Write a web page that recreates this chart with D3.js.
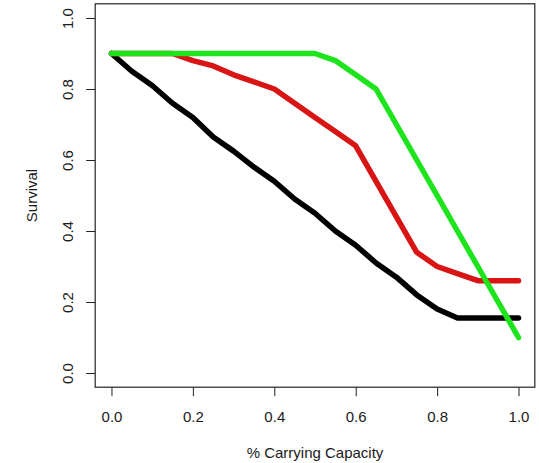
<!DOCTYPE html>
<html>
<head>
<meta charset="utf-8">
<script src="https://cdn.jsdelivr.net/npm/d3@7"></script>
<style>
  html, body { margin: 0; padding: 0; background: #fff; }
  svg { display: block; }
  text { font-family: "Liberation Sans", Arial, sans-serif; fill: #1a1a1a; }
</style>
</head>
<body>
<svg id="chart" width="539" height="463"></svg>
<script>
// ---- data ----
const capacity = [0, 0.05, 0.1, 0.15, 0.2, 0.25, 0.3, 0.35, 0.4, 0.45, 0.5,
                  0.55, 0.6, 0.65, 0.7, 0.75, 0.8, 0.85, 0.9, 0.95, 1.0];
const survivalBlack = [0.9, 0.85, 0.81, 0.76, 0.72, 0.665, 0.625, 0.58, 0.54, 0.49, 0.45,
                       0.40, 0.36, 0.31, 0.27, 0.22, 0.18, 0.155, 0.155, 0.155, 0.155];
const survivalRed = [0.9, 0.9, 0.9, 0.9, 0.88, 0.865, 0.84, 0.82, 0.8, 0.76, 0.72,
                     0.68, 0.64, 0.54, 0.44, 0.34, 0.30, 0.28, 0.26, 0.26, 0.26];
const survivalGreen = [0.9, 0.9, 0.9, 0.9, 0.9, 0.9, 0.9, 0.9, 0.9, 0.9, 0.9,
                       0.88, 0.84, 0.8, 0.7, 0.6, 0.5, 0.4, 0.3, 0.2, 0.1];
const xTicks = [0, 0.2, 0.4, 0.6, 0.8, 1.0];
const yTicks = [0, 0.2, 0.4, 0.6, 0.8, 1.0];
const xLabel = "% Carrying Capacity";
const yLabel = "Survival";

(function () {
// ---- layout ----
const pLeft = 95.2, pRight = 534.8, pTop = 3.8, pBottom = 387.2;
const svg = d3.select("#chart");

const x = d3.scaleLinear().domain([-0.04, 1.04]).range([pLeft, pRight]);
const y = d3.scaleLinear().domain([-0.04, 1.04]).range([pBottom, pTop]);

const fmt = d3.format(".1f");

// x axis
const gx = svg.append("g")
  .attr("transform", `translate(0,${pBottom})`)
  .call(d3.axisBottom(x).tickValues(xTicks).tickFormat(fmt).tickSize(9).tickPadding(15.5));
gx.select(".domain").remove();
gx.selectAll(".tick line").attr("stroke", "#222").attr("stroke-width", 1);
gx.selectAll(".tick text").attr("font-size", 15).attr("fill", "#1a1a1a");

// y axis
const gy = svg.append("g")
  .attr("transform", `translate(${pLeft},0)`)
  .call(d3.axisLeft(y).tickValues(yTicks).tickFormat(fmt).tickSize(9));
gy.select(".domain").remove();
gy.selectAll(".tick line").attr("stroke", "#222").attr("stroke-width", 1);
gy.selectAll(".tick text")
  .attr("font-size", 15)
  .attr("fill", "#1a1a1a")
  .attr("x", 0).attr("y", -22).attr("dy", 0)
  .attr("text-anchor", "middle")
  .attr("transform", "rotate(-90)");

// box
svg.append("rect")
  .attr("x", pLeft).attr("y", pTop)
  .attr("width", pRight - pLeft).attr("height", pBottom - pTop)
  .attr("fill", "none").attr("stroke", "#222").attr("stroke-width", 1.2);

// axis titles
svg.append("text")
  .attr("x", (pLeft + pRight) / 2).attr("y", 458)
  .attr("text-anchor", "middle").attr("font-size", 15)
  .text(xLabel);
svg.append("text")
  .attr("transform", `translate(37,${(pTop + pBottom) / 2}) rotate(-90)`)
  .attr("text-anchor", "middle").attr("font-size", 15)
  .text(yLabel);

// lines
const series = [
  { vals: survivalBlack, color: "#000000" },
  { vals: survivalRed, color: "#d81414" },
  { vals: survivalGreen, color: "#1ee41e" }
];
const line = d3.line().x((d, i) => x(capacity[i])).y(d => y(d));
svg.append("g").selectAll("path")
  .data(series)
  .join("path")
  .attr("d", d => line(d.vals))
  .attr("fill", "none")
  .attr("stroke", d => d.color)
  .attr("stroke-width", 5.5)
  .attr("stroke-linejoin", "round")
  .attr("stroke-linecap", "round");
})();
</script>
</body>
</html>
